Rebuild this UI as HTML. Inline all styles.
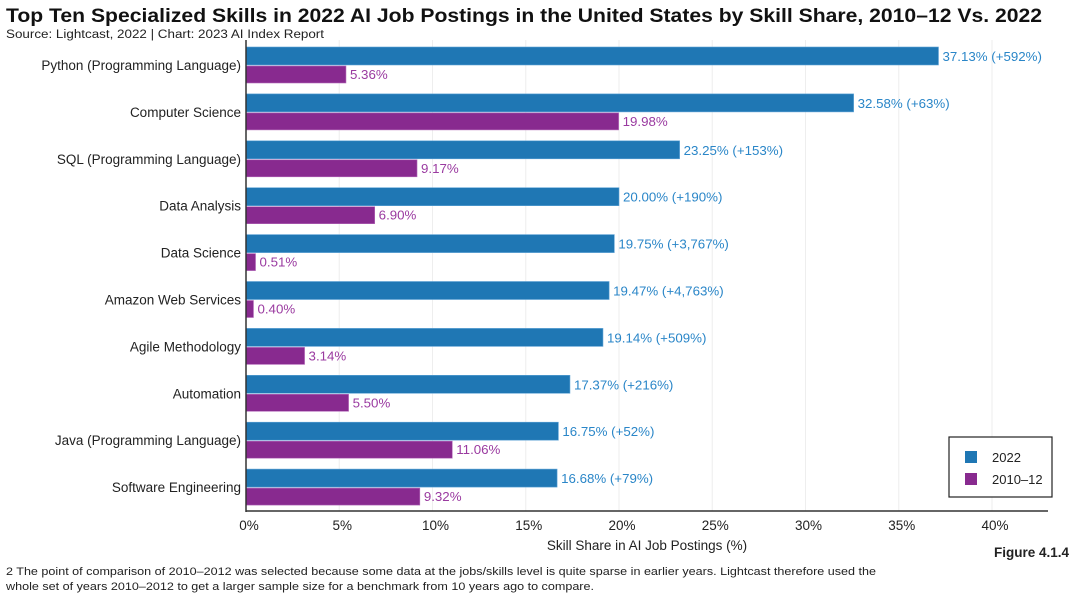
<!DOCTYPE html>
<html><head><meta charset="utf-8"><style>
body{margin:0;background:#fff;font-family:"Liberation Sans",sans-serif;}
svg text{font-family:"Liberation Sans",sans-serif;}
</style></head><body>
<svg width="1080" height="598" xmlns="http://www.w3.org/2000/svg" id="chart">
<text x="6" y="22" font-size="19.5" font-weight="bold" fill="#111" textLength="1036" lengthAdjust="spacingAndGlyphs">Top Ten Specialized Skills in 2022 AI Job Postings in the United States by Skill Share, 2010–12 Vs. 2022</text>
<text x="6" y="38" font-size="11.5" fill="#222" textLength="318" lengthAdjust="spacingAndGlyphs">Source: Lightcast, 2022 | Chart: 2023 AI Index Report</text>
<g id="grid"></g><g id="bars"></g><g id="labels"></g>
<line x1="246" y1="40" x2="246" y2="512" stroke="#333" stroke-width="1.5"/>
<line x1="246" y1="511" x2="1048" y2="511" stroke="#333" stroke-width="1.5"/>
<text x="647" y="550" font-size="13.5" text-anchor="middle" fill="#222">Skill Share in AI Job Postings (%)</text>
<g>
<rect x="949" y="437" width="103" height="60" fill="#fff" stroke="#222" stroke-width="1.2"/>
<rect x="965" y="451" width="12" height="12" fill="#1f77b4"/>
<text x="992" y="462" font-size="13" fill="#222">2022</text>
<rect x="965" y="473" width="12" height="12" fill="#882a8f"/>
<text x="992" y="484" font-size="13" fill="#222">2010–12</text>
</g>
<text x="1069" y="557" font-size="13.5" font-weight="bold" text-anchor="end" fill="#222">Figure 4.1.4</text>
<text x="6" y="575" font-size="11" fill="#222" textLength="870" lengthAdjust="spacingAndGlyphs">2 The point of comparison of 2010–2012 was selected because some data at the jobs/skills level is quite sparse in earlier years. Lightcast therefore used the</text>
<text x="6" y="590" font-size="11" fill="#222" textLength="588" lengthAdjust="spacingAndGlyphs">whole set of years 2010–2012 to get a larger sample size for a benchmark from 10 years ago to compare.</text>
</svg>
<script>
const categories=["Python (Programming Language)","Computer Science","SQL (Programming Language)","Data Analysis","Data Science","Amazon Web Services","Agile Methodology","Automation","Java (Programming Language)","Software Engineering"];
const values2022=[37.13,32.58,23.25,20.00,19.75,19.47,19.14,17.37,16.75,16.68];
const values2010=[5.36,19.98,9.17,6.90,0.51,0.40,3.14,5.50,11.06,9.32];
const changeLabels=["+592%","+63%","+153%","+190%","+3,767%","+4,763%","+509%","+216%","+52%","+79%"];
const ticks=[0,5,10,15,20,25,30,35,40];
const NS="http://www.w3.org/2000/svg";
const x=v=>246+v*18.65;
const rowY=i=>47+i*46.9;
function mk(tag,attrs,parent,txt){const e=document.createElementNS(NS,tag);for(const k in attrs)e.setAttribute(k,attrs[k]);if(txt!==undefined)e.textContent=txt;document.querySelector(parent).appendChild(e);return e;}
ticks.forEach(t=>{
 if(t>0){const g=mk('line',{x1:x(t),x2:x(t),y1:40,y2:511,stroke:'#eee','stroke-width':1},'#grid');
 
 }
 const l=mk('text',{x:x(t)+3,y:530,'font-size':13.5,'text-anchor':'middle',fill:'#222'},'#labels',t+'%');
 
 
});
categories.forEach((c,i)=>{
 const y=rowY(i);
 const cl=mk('text',{x:241,y:y+23,'font-size':13.5,'text-anchor':'end',fill:'#222'},'#labels',c);
 
 
 const b=mk('rect',{x:246,y:y,width:x(values2022[i])-246,height:18,fill:'#1f77b4',stroke:'#5fa3d6','stroke-width':0.6},'#bars');
 
 
 const p=mk('rect',{x:246,y:y+19,width:x(values2010[i])-246,height:17,fill:'#882a8f',stroke:'#b56bba','stroke-width':0.6},'#bars');
 
 
 const bl=mk('text',{x:x(values2022[i])+4,y:y+14,'font-size':13.3,fill:'#2a86c8'},'#labels',values2022[i].toFixed(2)+'% ('+changeLabels[i]+')');
 
 
 const pl=mk('text',{x:x(values2010[i])+4,y:y+32,'font-size':13.3,fill:'#9a3aa0'},'#labels',values2010[i].toFixed(2)+'%');
 
 
});
</script>
</body></html>
